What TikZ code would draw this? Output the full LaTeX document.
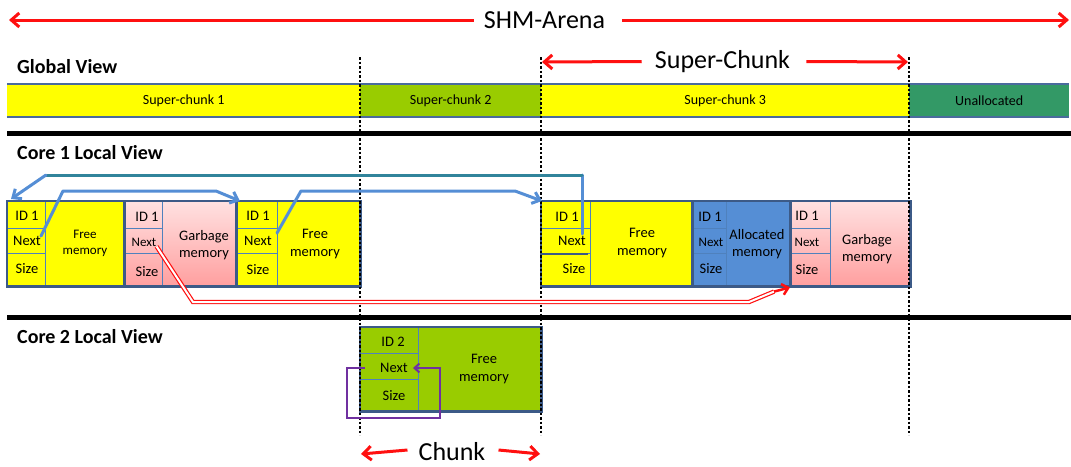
\documentclass[tikz,border=0pt]{standalone}
\usepackage{fontspec}
\setmainfont{Carlito}
\usetikzlibrary{arrows.meta,calc}
\definecolor{yel}{HTML}{FFFF00}
\definecolor{grn}{HTML}{99CC00}
\definecolor{dgrn}{HTML}{339966}
\definecolor{ablue}{HTML}{558ED5}
\definecolor{bord}{HTML}{3C5A87}
\definecolor{thinb}{HTML}{4F81BD}
\definecolor{barb}{HTML}{4A6B9D}
\definecolor{arblue}{HTML}{558ED5}
\definecolor{tealc}{HTML}{31849B}
\definecolor{pinkT}{HTML}{FFE1E1}
\definecolor{pinkB}{HTML}{FF9F9F}
\definecolor{purp}{HTML}{7030A0}
\definecolor{arred}{HTML}{FF1010}
\begin{document}
\begin{tikzpicture}[x=1pt,y=-1pt,
  biglbl/.style={font=\fontsize{26}{30}\selectfont, inner sep=0pt},
  ttl/.style={font=\bfseries\fontsize{20}{24}\selectfont, anchor=base west, inner sep=0pt},
  barnode/.style={font=\fontsize{14}{17}\selectfont, inner sep=0pt, anchor=north west, minimum height=33pt},
  cell/.style={font=\fontsize{14.5}{17.5}\selectfont, inner sep=0pt, align=center},
  smallcell/.style={font=\fontsize{13}{16}\selectfont, inner sep=0pt, align=center},
  bg/.style={inner sep=0pt, anchor=north west, minimum height=85pt},
  redarr/.style={draw=arred, line width=3pt, -{Straight Barb[length=8pt,width=14pt]}},
  bluearr/.style={draw=arblue, line width=3pt, line cap=round, line join=round},
  vsep/.style={black, line width=2.6pt, dash pattern=on 2.5pt off 2pt},
  blkborder/.style={draw=bord, line width=2.5pt},
  thinl/.style={draw=thinb, line width=1pt},
  sepline/.style={black, line width=5pt}
]
\useasboundingbox (0,0) rectangle (1071,466);

% ---------- top labels ----------
\node[biglbl] (shm) at (544.5,20) {SHM-Arena};
\coordinate (shmL) at (9,20);
\coordinate (shmR) at (1069,20);
\draw[redarr] ([xshift=-10pt]shm.west) -- (shmL);
\draw[redarr] ([xshift=17pt]shm.east) -- (shmR);

\node[biglbl] (sc) at (722.5,61.5) {Super-Chunk};
\coordinate (scL) at (542,62);
\coordinate (scR) at (908,62);
\draw[redarr] ([xshift=-13pt]sc.west) -- (scL);
\draw[redarr] ([xshift=16pt]sc.east) -- (scR);

\node[ttl] (gv) at (17,73) {Global View};

% ---------- global bar ----------
\node[barnode, fill=yel, minimum width=353pt] (g1) at (7,84) {Super-chunk 1};
\node[barnode, fill=grn, minimum width=181pt] (g2) at (360,84) {Super-chunk 2};
\node[barnode, fill=yel, minimum width=368pt] (g3) at (541,84) {Super-chunk 3};
\node[barnode, fill=dgrn, minimum width=160pt] (g4) at (909,84) {Unallocated};
\draw[barb, line width=2pt] (g1.north west) -- (g4.north east);
\draw[barb, line width=2pt] (g1.south west) -- (g4.south east);

\draw[sepline] (7,133) -- (1071,133);
\node[ttl] (c1v) at (17,159) {Core 1 Local View};

% ---------- core 1 blocks ----------
\node[bg, fill=yel, minimum width=117pt] (b1) at (7,201) {};
\node[bg, top color=pinkT, bottom color=pinkB, minimum width=112pt] (b2) at (124,201) {};
\node[bg, fill=yel, minimum width=124pt] (b3) at (236,201) {};
\node[bg, fill=yel, minimum width=151pt] (b4) at (541,201) {};
\node[bg, fill=ablue, minimum width=98pt] (b5) at (692,201) {};
\node[bg, top color=pinkT, bottom color=pinkB, minimum width=120pt] (b6) at (790,201) {};

% inner dividers
\foreach \xl/\xh in {7/45, 124/162, 236/277, 541/590, 692/726, 790/830}{
  \draw[thinl] (\xh,201) -- (\xh,286);
  \draw[thinl] (\xl,228.5) -- (\xh,228.5);
  \draw[thinl] (\xl,253.5) -- (\xh,253.5);
}
\draw[draw=bord, line width=2pt] (541,254) -- (588,254);

% borders
\foreach \b in {b1,b2,b3,b4,b5,b6}{
  \draw[blkborder] (\b.north west) rectangle (\b.south east);
}

% cell texts
\node[cell] (b1i) at (27,216) {ID 1};
\node[cell] (b1n) at (27,241) {Next};
\node[cell] (b1s) at (27,269) {Size};
\node[smallcell] (b1f) at (85,243) {Free\\memory};

\node[cell] (b2i) at (147,217) {ID 1};
\node[smallcell] (b2n) at (144,242) {Next};
\node[cell] (b2s) at (147,272) {Size};
\node[cell] (b2f) at (204,245) {Garbage\\memory};

\node[cell] (b3i) at (258,216) {ID 1};
\node[cell] (b3n) at (258,241) {Next};
\node[cell] (b3s) at (258,270) {Size};
\node[cell] (b3f) at (315,244) {Free\\memory};

\node[cell] (b4i) at (567,217) {ID 1};
\node[cell] (b4n) at (572,241) {Next};
\node[cell] (b4s) at (574,269) {Size};
\node[cell] (b4f) at (642,243) {Free\\memory};

\node[cell] (b5i) at (710,217) {ID 1};
\node[smallcell] (b5n) at (711,242) {Next};
\node[cell] (b5s) at (711,269) {Size};
\node[cell] (b5f) at (757,244) {Allocated\\memory};

\node[cell] (b6i) at (807,216) {ID 1};
\node[smallcell] (b6n) at (807,242) {Next};
\node[cell] (b6s) at (807,270) {Size};
\node[cell] (b6f) at (867,249) {Garbage\\memory};

% ---------- core 2 ----------
\draw[sepline] (7,317.5) -- (1071,317.5);
\node[ttl] (c2v) at (17,343) {Core 2 Local View};

\node[bg, fill=grn, minimum width=181pt, minimum height=84pt] (c) at (360,327) {};
\draw[thinl] (418,327) -- (418,411);
\draw[thinl] (360,353) -- (418,353);
\draw[thinl] (360,379) -- (418,379);
\draw[blkborder] (c.north west) rectangle (c.south east);
\node[cell] (ci) at (393,342) {ID 2};
\node[cell] (cn) at (394,368) {Next};
\node[cell] (cs) at (394,396) {Size};
\node[cell] (cf) at (484,369) {Free\\memory};

% ---------- dotted separators ----------
\foreach \x in {360,541,909}{
  \draw[vsep] (\x,57) -- (\x,435);
}

% ---------- core 1 arrows ----------
% teal / blue return arrow
\coordinate (t0) at (582,234);
\coordinate (t1) at (582,175);
\coordinate (t2) at (46,175);
\draw[bluearr] (t0) -- (t1);
\draw[draw=tealc, line width=3pt, line cap=round] (t1) -- (t2);
\draw[bluearr, -{Straight Barb[length=7pt,width=12pt]}] (t2) -- ([xshift=4pt,yshift=2pt]b1.north west);

% blue arrow 1
\coordinate (p1) at (63,191);
\coordinate (p2) at (216,191);
\draw[bluearr, -{Straight Barb[length=7pt,width=12pt]}] (b1n.north east) -- (p1) -- (p2) -- ([xshift=4pt]b3.north west);

% blue arrow 2
\coordinate (q0) at (277,233);
\coordinate (q1) at (301,191);
\coordinate (q2) at (515,191);
\draw[bluearr, -{Straight Barb[length=7pt,width=12pt]}] (q0) -- (q1) -- (q2) -- ([xshift=1pt]b4.north west);

% red double arrow
\coordinate (r1) at (193,302);
\coordinate (r2) at (749,302);
\coordinate (r3) at (774,291.6);
\draw[draw=arred, line width=1.2pt, double=white, double distance=2pt, line join=miter]
  (b2n.south east) -- (r1) -- (r2) -- (r3);
\draw[draw=arred, line width=2.5pt, -{Straight Barb[length=6pt,width=11pt]}] (r3) -- ([yshift=-1pt]b6.south west);

% purple loop
\coordinate (u0) at (365,368);
\coordinate (u1) at (347,368);
\coordinate (u2) at (347,418);
\coordinate (u3) at (440,418);
\coordinate (u4) at (440,368);
\draw[draw=purp, line width=2pt, -{Straight Barb[length=5pt,width=9pt]}]
  (u0) -- (u1) -- (u2) -- (u3) -- (u4) -- ([xshift=5pt]cn.east);

% ---------- chunk label ----------
\node[biglbl] (ch) at (452,452) {Chunk};
\coordinate (chL) at (361,454);
\coordinate (chR) at (540,454);
\draw[redarr] ([xshift=-11pt,yshift=2pt]ch.west) -- (chL);
\draw[redarr] ([xshift=13pt,yshift=2pt]ch.east) -- (chR);
\end{tikzpicture}
\end{document}
